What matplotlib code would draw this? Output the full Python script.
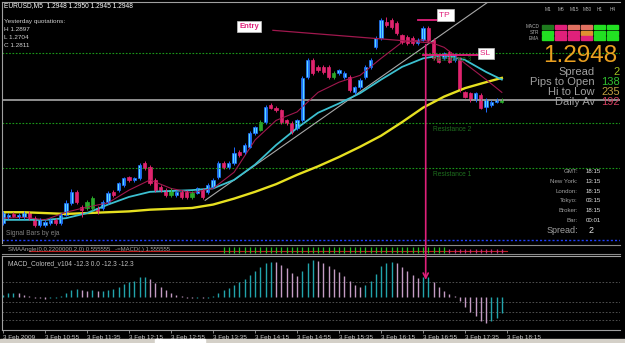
import matplotlib.pyplot as plt
from matplotlib.patches import Rectangle, ConnectionPatch

plt.rcParams['font.family'] = ['Liberation Sans', 'DejaVu Sans']

W, H = 625, 343

# ---- price data, EURUSD M5, one bar per 5 minutes from 10:15 ----
opens = [1.2803, 1.2810, 1.2814, 1.2810, 1.2810, 1.2815, 1.2809, 1.2801, 1.2801, 1.2803,
         1.2807, 1.2803, 1.2813, 1.2827, 1.2840, 1.2822, 1.2821, 1.2821, 1.2821, 1.2821,
         1.2828, 1.2840, 1.2842, 1.2848, 1.2857, 1.2854, 1.2856, 1.2874, 1.2869, 1.2854,
         1.2846, 1.2842, 1.2836, 1.2836, 1.2840, 1.2840, 1.2834, 1.2839, 1.2842, 1.2840,
         1.2846, 1.2857, 1.2874, 1.2869, 1.2874, 1.2887, 1.2887, 1.2893, 1.2909, 1.2913,
         1.2922, 1.2942, 1.2939, 1.2936, 1.2924, 1.2921, 1.2915, 1.2924, 1.2975, 1.2995,
         1.2987, 1.2987, 1.2987, 1.2975, 1.2980, 1.2975, 1.2975, 1.2957, 1.2963, 1.2975,
         1.2987, 1.3010, 1.3021, 1.3040, 1.3042, 1.3039, 1.3024, 1.3022, 1.3021, 1.3015,
         1.3019, 1.3033, 1.3019, 1.2999, 1.2997, 1.3004, 1.2995, 1.2997, 1.2957, 1.2956,
         1.2948, 1.2954, 1.2940, 1.2942, 1.2946, 1.2946]
closes = [1.2815, 1.2813, 1.2812, 1.2813, 1.2815, 1.2809, 1.2801, 1.2807, 1.2805, 1.2807,
          1.2803, 1.2813, 1.2827, 1.2840, 1.2828, 1.2819, 1.2828, 1.2833, 1.2816, 1.2828,
          1.2839, 1.2836, 1.2850, 1.2856, 1.2854, 1.2856, 1.2872, 1.2868, 1.2850, 1.2842,
          1.2842, 1.2836, 1.2842, 1.2840, 1.2834, 1.2834, 1.2839, 1.2844, 1.2834, 1.2848,
          1.2854, 1.2874, 1.2869, 1.2874, 1.2886, 1.2883, 1.2895, 1.2909, 1.2916, 1.2922,
          1.2940, 1.2939, 1.2936, 1.2922, 1.2921, 1.2910, 1.2924, 1.2974, 1.2995, 1.2980,
          1.2983, 1.2981, 1.2975, 1.2980, 1.2983, 1.2980, 1.2960, 1.2963, 1.2972, 1.2987,
          1.2995, 1.3021, 1.3042, 1.3036, 1.3034, 1.3027, 1.3016, 1.3015, 1.3015, 1.3019,
          1.3033, 1.3019, 1.2997, 1.2993, 1.3003, 1.2993, 1.3001, 1.2960, 1.2952, 1.2948,
          1.2956, 1.2939, 1.2948, 1.2946, 1.2948, 1.2948]
highs = [1.2817, 1.2815, 1.2816, 1.2815, 1.2817, 1.2817, 1.2811, 1.2809, 1.2807, 1.2809,
         1.2809, 1.2815, 1.2830, 1.2843, 1.2842, 1.2825, 1.2830, 1.2835, 1.2823, 1.2830,
         1.2841, 1.2842, 1.2852, 1.2858, 1.2859, 1.2858, 1.2874, 1.2876, 1.2871, 1.2856,
         1.2848, 1.2844, 1.2844, 1.2842, 1.2842, 1.2842, 1.2841, 1.2846, 1.2844, 1.2850,
         1.2856, 1.2876, 1.2876, 1.2876, 1.2893, 1.2889, 1.2897, 1.2911, 1.2918, 1.2924,
         1.2942, 1.2944, 1.2941, 1.2938, 1.2926, 1.2923, 1.2926, 1.2976, 1.2997, 1.2997,
         1.2989, 1.2989, 1.2989, 1.2982, 1.2985, 1.2982, 1.2977, 1.2965, 1.2974, 1.2989,
         1.2997, 1.3023, 1.3045, 1.3046, 1.3044, 1.3041, 1.3026, 1.3024, 1.3023, 1.3021,
         1.3035, 1.3035, 1.3021, 1.3001, 1.3005, 1.3006, 1.3003, 1.2999, 1.2959, 1.2958,
         1.2958, 1.2956, 1.2950, 1.2948, 1.2950, 1.2950]
lows = [1.2801, 1.2808, 1.2810, 1.2808, 1.2808, 1.2807, 1.2799, 1.2799, 1.2799, 1.2801,
        1.2801, 1.2801, 1.2811, 1.2825, 1.2826, 1.2810, 1.2819, 1.2819, 1.2814, 1.2819,
        1.2826, 1.2834, 1.2840, 1.2846, 1.2852, 1.2852, 1.2854, 1.2866, 1.2848, 1.2840,
        1.2840, 1.2834, 1.2834, 1.2834, 1.2832, 1.2832, 1.2832, 1.2837, 1.2832, 1.2838,
        1.2844, 1.2855, 1.2867, 1.2867, 1.2872, 1.2881, 1.2885, 1.2891, 1.2907, 1.2911,
        1.2920, 1.2937, 1.2934, 1.2920, 1.2919, 1.2908, 1.2913, 1.2922, 1.2973, 1.2978,
        1.2981, 1.2979, 1.2973, 1.2973, 1.2978, 1.2973, 1.2958, 1.2955, 1.2961, 1.2973,
        1.2985, 1.3008, 1.3019, 1.3034, 1.3032, 1.3025, 1.3014, 1.3013, 1.3013, 1.3013,
        1.3017, 1.3017, 1.2995, 1.2991, 1.2995, 1.2991, 1.2993, 1.2958, 1.2950, 1.2946,
        1.2946, 1.2937, 1.2934, 1.2940, 1.2944, 1.2944]
neutral_bars = [16, 17, 32, 36, 49, 63, 95]

# moving averages read every 4 bars
ma_bars = [0, 4, 8, 12, 16, 20, 24, 28, 32, 36, 40, 44, 48, 52, 56, 60, 64, 68, 72, 76,
           80, 84, 88, 92, 95]
ma_fast = [1.2809, 1.2810, 1.2807, 1.2816, 1.2822, 1.2827, 1.2842, 1.2854, 1.2844, 1.2839,
           1.2844, 1.2863, 1.2901, 1.2924, 1.2934, 1.2957, 1.2969, 1.2977, 1.2997, 1.3016,
           1.3019, 1.3010, 1.2991, 1.2972, 1.2957]
ma_mid = [1.2807, 1.2807, 1.2807, 1.2809, 1.2815, 1.2825, 1.2834, 1.2840, 1.2841, 1.2842,
          1.2844, 1.2854, 1.2872, 1.2895, 1.2915, 1.2933, 1.2944, 1.2956, 1.2972, 1.2987,
          1.2997, 1.3001, 1.2995, 1.2981, 1.2972]
ma_slow = [1.2816, 1.2816, 1.2815, 1.2814, 1.2815, 1.2816, 1.2817, 1.2819, 1.2820, 1.2821,
           1.2825, 1.2832, 1.2840, 1.2849, 1.2860, 1.2870, 1.2881, 1.2893, 1.2906, 1.2922,
           1.2939, 1.2952, 1.2962, 1.2969, 1.2974]

macd = [2.0, 3.0, 3.5, 3.0, 2.0, 1.0, -0.5, -1.0, -1.5, -1.0,
        -0.5, 1.0, 3.5, 6.0, 6.5, 5.5, 5.0, 5.5, 4.5, 4.5,
        6.0, 6.5, 8.5, 11.0, 12.5, 13.5, 16.0, 16.5, 14.5, 11.5,
        8.5, 5.5, 3.5, 2.0, 0.5, -0.5, -1.0, -0.5, -1.0, -0.5,
        0.5, 3.5, 5.5, 7.0, 10.0, 12.0, 14.5, 18.0, 21.5, 24.5,
        28.0, 29.0, 28.5, 26.0, 23.5, 19.5, 17.0, 21.0, 27.5, 30.0,
        29.5, 27.5, 25.5, 23.0, 20.5, 17.5, 13.0, 9.5, 8.0, 9.5,
        13.5, 19.0, 25.0, 28.0, 29.0, 27.5, 24.5, 21.0, 18.0, 15.5,
        16.0, 16.5, 12.0, 8.0, 5.0, 2.5, 0.5, -3.0, -8.0, -12.5,
        -16.0, -19.5, -21.0, -20.0, -17.0, -13.0]

angle_up = list(range(42, 85))
angle_down = list(range(85, 96))

tick_bars = [0, 8, 16, 24, 32, 40, 48, 56, 64, 72, 80, 88, 96]
tick_labels = ['3 Feb 2009', '3 Feb 10:55', '3 Feb 11:35', '3 Feb 12:15', '3 Feb 12:55',
               '3 Feb 13:35', '3 Feb 14:15', '3 Feb 14:55', '3 Feb 15:35', '3 Feb 16:15',
               '3 Feb 16:55', '3 Feb 17:35', '3 Feb 18:15']

bid = 1.2948
resist_names = ['Resistance 3', 'Resistance 2', 'Resistance 1']
resist_levels = [1.3003, 1.2921, 1.2868]
support_level = 1.2783

entry_x, entry_y = [51.4, 81.9], [1.3030, 1.3015]
tp_x, tp_y = [79.0, 83.0], [1.3042, 1.3042]
sl_x, sl_y = [80.0, 91.0], [1.3001, 1.3001]
trend_x, trend_y = [38.5, 93.0], [1.2830, 1.3066]
signal_bar, signal_top, signal_macd = 80.5, 1.3013, 14.0

tf_names = ['M1', 'M5', 'M15', 'M30', 'H1', 'H4']
sig_rows = ['MACD', 'STR', 'EMA']
sig_state = [['up2', 'down', 'weak', 'weak', 'up', 'up'],
             ['up', 'down', 'down', 'flat', 'up', 'up'],
             ['up', 'down', 'down', 'down', 'up', 'up']]

info_names = ['Spread', 'Pips to Open', 'Hi to Low', 'Daily Av']
info_vals = ['2', '138', '235', '192']
clock_names = ['GMT:', 'New York:', 'London:', 'Tokyo:', 'Broker:', 'Bar:']
clock_vals = ['18:15', '13:15', '18:15', '03:15', '18:15', '00:01']


def px_rect(x0, y0, x1, y1):
    return [x0 / W, 1 - y1 / H, (x1 - x0) / W, (y1 - y0) / H]


def ptext(x, y, s, **kw):
    fig.text(x / W, 1 - y / H, s, **kw)


fig = plt.figure(figsize=(W / 100, H / 100), dpi=100, facecolor='black')

# ---- main price panel ----
ax = fig.add_axes(px_rect(2, 2, 620, 243), facecolor='black')
ax.set_xlim(-0.19, 117.5)
ax.set_ylim(1.27798, 1.30633)
ax.set_xticks([])
ax.set_yticks([])
for side in ['right', 'bottom']:
    ax.spines[side].set_visible(False)
for side in ['left', 'top']:
    ax.spines[side].set_color('#a0a0a0')

for lvl in resist_levels:
    ax.axhline(lvl, color='#1a9a1a', lw=0.8, ls=(0, (1.5, 1.5)))
ax.axhline(support_level, color='#2040ff', lw=1.0, ls=(0, (1.5, 1.5)))
ax.axhline(bid, color='#9a9a9a', lw=1.3)
for name, lvl in zip(resist_names, resist_levels):
    ax.text(81.8, lvl - 0.0003, name, color='#1e6e1e', fontsize=4.8, va='top')

ax.plot(ma_bars, ma_slow, color='#e6e020', lw=1.7)
ax.plot(trend_x, trend_y, color='#a8a8a8', lw=0.8)
ax.plot(ma_bars, ma_mid, color='#3cc0d0', lw=1.3)
ax.plot(ma_bars, ma_fast, color='#a0184e', lw=0.8)

for i in range(len(opens)):
    o, c = opens[i], closes[i]
    if i in neutral_bars:
        face, edge = '#2aa82a', '#2aa82a'
    elif c >= o:
        face, edge = '#5ad8ff', '#1c6cff'
    else:
        face, edge = '#e0246e', '#e0246e'
    ax.vlines(i, lows[i], highs[i], color=edge, lw=0.7)
    ax.bar(i, max(abs(c - o), 0.00008), bottom=min(o, c), width=0.62,
           color=face, edgecolor=edge, lw=0.5)

ax.plot(entry_x, entry_y, color='#a0184e', lw=0.9)
ax.plot(tp_x, tp_y, color='#e0207a', lw=1.3)
ax.plot(sl_x, sl_y, color='#e0207a', lw=1.3)
box = dict(boxstyle='square,pad=0.25', fc='white', ec='#c0c0c0', lw=0.5)
ax.text(45.0, 1.3034, 'Entry', color='#e0207a', fontsize=5.5, fontweight='bold',
        va='center', bbox=box)
ax.text(83.0, 1.3048, 'TP ', color='#e0207a', fontsize=6, va='center', bbox=box)
ax.text(90.8, 1.3003, 'SL ', color='#e0207a', fontsize=6, va='center', bbox=box)

# ---- SMA angle strip ----
ax_s = fig.add_axes(px_rect(2, 245, 620, 254), facecolor='black')
ax_s.set_xlim(-0.19, 117.5)
ax_s.set_ylim(0, 1)
ax_s.set_xticks([])
ax_s.set_yticks([])
for side in ax_s.spines:
    ax_s.spines[side].set_color('#8a8a8a')
ax_s.spines['left'].set_visible(False)
ax_s.spines['right'].set_visible(False)
ax_s.plot([5, 96], [0.35, 0.35], color='#c02020', lw=0.8)
ax_s.vlines(angle_up, 0.15, 0.75, color='#20c020', lw=0.9)
ax_s.vlines(angle_down, 0.15, 0.55, color='#c03080', lw=0.9)
ax_s.text(1, 0.5, 'SMAAngle(0,0.2200000,2,0) 0.555555   -=MACD(,) 1.555555',
          color='#a0a0a0', fontsize=4.3, va='center')

# ---- MACD panel ----
ax_m = fig.add_axes(px_rect(2, 256, 620, 330), facecolor='black')
ax_m.set_xlim(-0.19, 117.5)
ax_m.set_ylim(-27.1, 33.6)
ax_m.set_yticks([])
for side in ax_m.spines:
    ax_m.spines[side].set_color('#a0a0a0')
ax_m.spines['right'].set_visible(False)
for lvl in [12.3, -4.0, -12.3, -19.0]:
    ax_m.axhline(lvl, color='#5a5a5a', lw=0.6, ls=(0, (2, 2)))
for i, v in enumerate(macd):
    rising = i == 0 or v >= macd[i - 1]
    ax_m.vlines(i, 0, v, color='#22a4ac' if rising else '#c49cc4', lw=1.0)
ax_m.text(1, 30.5, 'MACD_Colored_v104 -12.3 0.0 -12.3 -12.3', color='#c0c0c0',
          fontsize=4.8, va='top')
ax_m.set_xticks(tick_bars, tick_labels)
ax_m.tick_params(axis='x', colors='#a0a0a0', length=2, width=0.6, pad=1.5,
                 labelsize=4.6, labelcolor='#d0d0d0')
for lab in ax_m.get_xticklabels():
    lab.set_horizontalalignment('left')

sig = ConnectionPatch(xyA=(signal_bar, signal_top), coordsA=ax.transData,
                      xyB=(signal_bar, signal_macd), coordsB=ax_m.transData,
                      arrowstyle='->', color='#e0207a', lw=1.2, mutation_scale=9)
fig.add_artist(sig)

# ---- header texts ----
ptext(4, 7, 'EURUSD,M5  1.2948 1.2950 1.2945 1.2948', color='white', fontsize=4.8, va='baseline')
ptext(4, 23, 'Yesterday quotations:', color='#d0d0d0', fontsize=4.6, va='baseline')
ptext(4, 31, 'H 1.2897', color='#d0d0d0', fontsize=4.6, va='baseline')
ptext(4, 39, 'L 1.2704', color='#d0d0d0', fontsize=4.6, va='baseline')
ptext(4, 47, 'C 1.2811', color='#d0d0d0', fontsize=4.6, va='baseline')
ptext(6, 235, 'Signal Bars by eja', color='#808080', fontsize=4.8, va='baseline')

# ---- signal table ----
state_colors = {'up': '#22e022', 'up2': '#1e7a1e', 'down': '#e0207a',
                'weak': '#e07060', 'flat': '#e09030'}
for j, tf in enumerate(tf_names):
    ptext(548 + j * 13, 11, tf, color='#b0b0b0', fontsize=3.4, ha='center', va='baseline')
for r, row in enumerate(sig_rows):
    ptext(539, 28.5 + r * 5.5, row, color='#b0b0b0', fontsize=3.4, ha='right', va='baseline')
    for j, st in enumerate(sig_state[r]):
        fig.add_artist(Rectangle(((542 + j * 13) / W, 1 - (29 + r * 5.5) / H), 11 / W, 3.5 / H,
                                 transform=fig.transFigure, color=state_colors[st]))

ptext(617, 62, '1.2948', color='#eaa020', fontsize=17.5, ha='right', va='baseline')
info_colors = ['#a0c020', '#30c030', '#c0a040', '#d04060']
for k, (name, val) in enumerate(zip(info_names, info_vals)):
    ptext(595, 75 + k * 10, name, color='#a0a0a0', fontsize=8, ha='right', va='baseline')
    ptext(620, 75 + k * 10, val, color=info_colors[k], fontsize=8, ha='right', va='baseline')

for k, (name, val) in enumerate(zip(clock_names, clock_vals)):
    ptext(578, 173 + k * 9.8, name, color='#a0a0a0', fontsize=4.4, ha='right', va='baseline')
    ptext(586, 173 + k * 9.8, val, color='#e0e0e0', fontsize=4.4, va='baseline')
ptext(578, 233, 'Spread:', color='#a0a0a0', fontsize=6.5, ha='right', va='baseline')
ptext(589, 233, '2', color='#e0e0e0', fontsize=6.5, va='baseline')

# ---- window chrome ----
fig.add_artist(Rectangle((0, 0), 1, 4 / H, transform=fig.transFigure, color='#d4d0c8'))
fig.add_artist(Rectangle((155 / W, 0), 50 / W, 4 / H, transform=fig.transFigure, color='white'))

fig.savefig('out.png', dpi=100, facecolor='black')
